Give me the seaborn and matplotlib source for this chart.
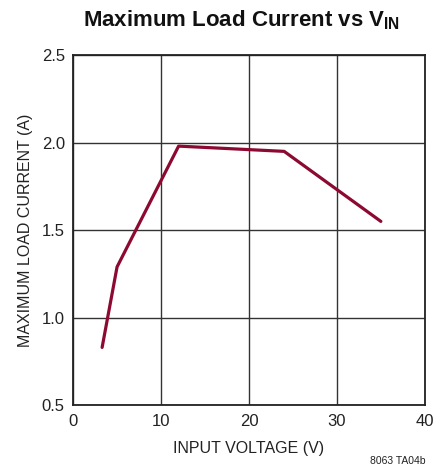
import matplotlib
matplotlib.use('Agg')
import matplotlib.pyplot as plt
import seaborn as sns
import pandas as pd

# data
vin = [3.3, 5.0, 12.0, 24.0, 35.0]
iload = [0.83, 1.29, 1.98, 1.95, 1.55]
xticks = [0, 10, 20, 30, 40]
yticks = [0.5, 1.0, 1.5, 2.0, 2.5]

sns.set_style('white')
plt.rcParams['font.family'] = ['Liberation Sans', 'DejaVu Sans']
plt.rcParams['mathtext.fontset'] = 'custom'
plt.rcParams['mathtext.rm'] = 'Liberation Sans'
plt.rcParams['mathtext.bf'] = 'Liberation Sans:bold'

df = pd.DataFrame({'vin': vin, 'iload': iload})

fig = plt.figure(figsize=(4.43, 4.75), dpi=100)
ax = fig.add_axes([0.165, 0.147, 0.794, 0.737])
sns.lineplot(data=df, x='vin', y='iload', ax=ax, color='#8c0a32', linewidth=2.3)

ax.set_xlim(0, 40)
ax.set_ylim(0.5, 2.5)
ax.set_xticks(xticks)
ax.set_yticks(yticks)
ax.set_yticklabels([f'{t:.1f}' for t in yticks])
ax.grid(True, color='#333333', linewidth=1.0)
for s in ax.spines.values():
    s.set_color('#222222')
    s.set_linewidth(1.3)
ax.tick_params(labelsize=12, colors='#222222', length=0, pad=6)
ax.set_xlabel('INPUT VOLTAGE (V)', fontsize=11.5, color='#222222', labelpad=9)
ax.set_ylabel('MAXIMUM LOAD CURRENT (A)', fontsize=11.5, color='#222222', labelpad=6)

fig.text(0.545, 0.957, r'Maximum Load Current vs V$_{\mathbf{IN}}$', ha='center', va='center',
         fontsize=16, fontweight='bold', color='#111111')
fig.text(0.96, 0.02, '8063 TA04b', ha='right', va='bottom', fontsize=7.5, color='#222222')

fig.savefig('out.png', dpi=100)
